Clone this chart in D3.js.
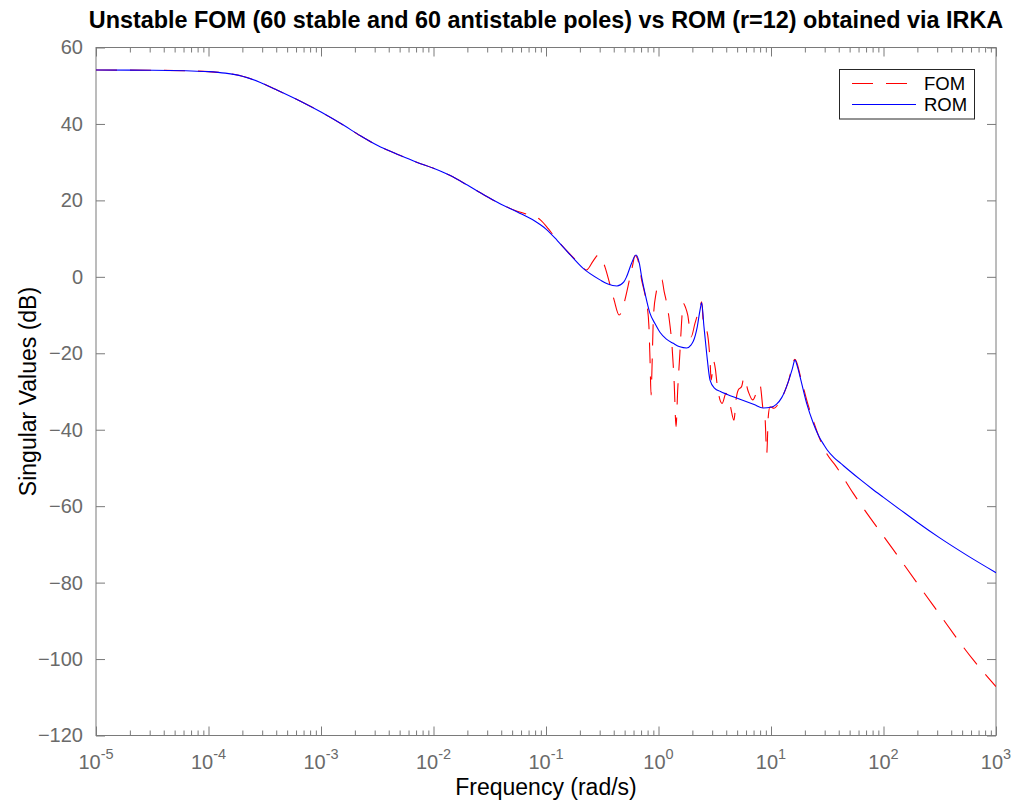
<!DOCTYPE html>
<html>
<head>
<meta charset="utf-8">
<script src="https://cdn.jsdelivr.net/npm/d3@7"></script>
<style>
  body { margin: 0; background: #ffffff; }
  text { font-family: "Liberation Sans", Arial, Helvetica, sans-serif; }
</style>
</head>
<body>
<svg id="chart" width="1016" height="803"></svg>
<script>
// Singular value plot: full-order model (FOM) vs reduced-order model (ROM)

// Reduced-order model (r = 12): frequency (rad/s) and singular value (dB)
const romFreq = [
  1e-5, 3.16e-5, 6.31e-5, 1e-4, 1.41e-4, 2.00e-4, 2.82e-4, 3.98e-4, 6.31e-4, 1e-3,
  1.58e-3, 2.24e-3, 3.16e-3, 5.01e-3, 7.08e-3, 1e-2, 1.41e-2, 2.00e-2, 2.82e-2, 3.98e-2,
  5.62e-2, 7.94e-2, 0.1, 0.126, 0.158, 0.214, 0.302, 0.355, 0.427, 0.490,
  0.520, 0.575, 0.631, 0.676, 0.708, 0.759, 0.839, 0.933, 1.03, 1.175,
  1.352, 1.549, 1.778, 1.950, 2.042, 2.213, 2.339, 2.421, 2.535, 2.679,
  2.871, 3.162, 3.548, 4.036, 5.297, 7.079, 8.511, 10, 11.22, 12.45,
  14.26, 15.49, 16.33, 17.18, 18.11, 20.75, 23.77, 27.29, 29.17, 31.62,
  36.31, 41.69, 50.12, 63.10, 79.43, 100, 140.3, 199.5, 316.2, 562.3,
  1000
];
const romMag = [
  54.1, 54.05, 53.9, 53.7, 53.3, 52.5, 51.0, 49.0, 46.2, 43.1,
  39.7, 36.9, 34.4, 31.8, 30.0, 28.4, 26.5, 24.0, 21.4, 19.0,
  16.9, 14.6, 12.5, 9.5, 6.3, 2.2, -0.8, -1.9, -2.4, -1.4,
  0.0, 3.5, 5.7, 3.5, 0.0, -4.3, -9.5, -12.3, -14.5, -16.3,
  -17.4, -18.3, -18.6, -17.8, -16.8, -13.0, -8.7, -6.8, -13.0, -20.0,
  -27.0, -29.2, -30.0, -30.7, -32.0, -33.4, -34.3, -34.1, -33.3, -31.6,
  -27.4, -24.0, -21.8, -23.5, -26.1, -33.1, -38.3, -42.3, -43.7, -45.3,
  -47.3, -48.8, -50.8, -53.2, -55.5, -57.7, -60.9, -64.2, -68.3, -73.0,
  -77.4
];

// Full-order model (60 stable + 60 antistable poles)
const fomFreq = [
  1e-5, 3.16e-5, 6.31e-5, 1e-4, 1.41e-4, 2.00e-4, 2.82e-4, 3.98e-4, 6.31e-4, 1e-3,
  1.58e-3, 2.24e-3, 3.16e-3, 5.01e-3, 7.08e-3, 1e-2, 1.41e-2, 2.00e-2, 2.82e-2, 3.98e-2,
  0.0562, 0.0676, 0.0891, 0.1047, 0.1161, 0.1413, 0.1778, 0.2089, 0.2291, 0.263,
  0.2917, 0.3162, 0.3342, 0.3707, 0.4018, 0.4467, 0.4677, 0.5012, 0.5495, 0.5888,
  0.618, 0.6457, 0.6761, 0.7079, 0.7499, 0.7943, 0.8222, 0.8414, 0.859, 0.875,
  0.9016, 0.955, 1.012, 1.072, 1.122, 1.183, 1.259, 1.318, 1.380, 1.432,
  1.479, 1.549, 1.603, 1.660, 1.738, 1.820, 1.950, 2.109, 2.339, 2.421,
  2.512, 2.630, 2.773, 2.871, 2.938, 3.090, 3.199, 3.311, 3.681, 3.981,
  4.325, 4.688, 4.887, 5.117, 5.483, 5.754, 6.281, 6.871, 7.980, 8.511,
  8.851, 9.162, 9.462, 9.795, 10.64, 11.48, 12.45, 14.26, 16.33, 18.62,
  21.38, 23.99, 27.29, 31.62, 37.07, 53.70, 123.0, 275.4, 631.0, 1000
];
const fomMag = [
  54.1, 54.05, 53.9, 53.7, 53.3, 52.5, 51.0, 49.0, 46.2, 43.1,
  39.7, 36.9, 34.4, 31.8, 30.0, 28.4, 26.5, 24.0, 21.4, 19.0,
  17.1, 16.4, 14.9, 12.6, 10.9, 7.9, 4.8, 2.6, 1.8, 4.2,
  5.7, 4.5, 2.6, -2.1, -5.9, -10.0, -9.3, -6.2, -1.0, 3.0,
  5.6, 5.0, 2.8, -0.8, -4.0, -7.8, -13.0, -22.0, -30.9, -24.0,
  -10.4, -4.0, -1.2, -0.8, -3.8, -6.9, -12.2, -18.0, -28.0, -39.2,
  -30.0, -20.0, -12.0, -6.9, -8.0, -10.0, -15.7, -12.2, -7.8, -6.5,
  -12.4, -13.2, -16.5, -21.8, -27.0, -22.2, -24.0, -27.9, -33.1, -30.5,
  -33.5, -37.5, -32.2, -29.6, -28.7, -26.3, -30.0, -32.2, -28.3, -34.8,
  -37.0, -46.2, -36.5, -34.0, -34.4, -33.5, -31.8, -27.4, -21.6, -27.0,
  -33.5, -38.0, -42.6, -46.5, -49.2, -56.6, -71.5, -85.9, -100.3, -107.2
];

const xTickExponents = [-5, -4, -3, -2, -1, 0, 1, 2, 3];
const yTickValues = [60, 40, 20, 0, -20, -40, -60, -80, -100, -120];
const titleText = "Unstable FOM (60 stable and 60 antistable poles) vs ROM (r=12) obtained via IRKA";
const xLabelText = "Frequency (rad/s)";
const yLabelText = "Singular Values (dB)";
const seriesNames = ["FOM", "ROM"];

const W = 1016, H = 803;
const plot = { left: 96, right: 996, top: 47.5, bottom: 735.5 };
const axisColor = "#7a7a7a";
const labelColor = "#6a6a6a";

const svg = d3.select("#chart");
svg.append("rect").attr("width", W).attr("height", H).attr("fill", "#fff");

const x = d3.scaleLog().domain([1e-5, 1e3]).range([plot.left, plot.right]);
const y = d3.scaleLinear().domain([-120, 60]).range([plot.bottom, plot.top]);

const majorX = xTickExponents.map(e => Math.pow(10, e));
const minorX = [];
xTickExponents.slice(0, -1).forEach(e => {
  for (let m = 2; m <= 9; m++) minorX.push(m * Math.pow(10, e));
});

// Axes (ticks point inward on all four sides)
function styleAxis(g) {
  g.selectAll("path.domain").remove();
  g.selectAll("line").attr("stroke", axisColor).attr("stroke-width", 1);
}
svg.append("g").attr("transform", `translate(0,${plot.bottom})`)
  .call(d3.axisBottom(x).tickValues(majorX).tickSize(-9).tickSizeOuter(0).tickFormat(""))
  .call(styleAxis);
svg.append("g").attr("transform", `translate(0,${plot.bottom})`)
  .call(d3.axisBottom(x).tickValues(minorX).tickSize(-5).tickSizeOuter(0).tickFormat(""))
  .call(styleAxis);
svg.append("g").attr("transform", `translate(0,${plot.top})`)
  .call(d3.axisTop(x).tickValues(majorX).tickSize(-9).tickSizeOuter(0).tickFormat(""))
  .call(styleAxis);
svg.append("g").attr("transform", `translate(0,${plot.top})`)
  .call(d3.axisTop(x).tickValues(minorX).tickSize(-5).tickSizeOuter(0).tickFormat(""))
  .call(styleAxis);

const yAxisG = svg.append("g").attr("transform", `translate(${plot.left},0)`)
  .call(d3.axisLeft(y).tickValues(yTickValues).tickSize(-9).tickSizeOuter(0).tickPadding(13).tickFormat(d3.format("d")))
  .call(styleAxis);
yAxisG.selectAll("text")
  .attr("fill", labelColor)
  .style("font-size", "20px")
  .style("font-family", "'Liberation Sans', Arial, sans-serif");
svg.append("g").attr("transform", `translate(${plot.right},0)`)
  .call(d3.axisRight(y).tickValues(yTickValues).tickSize(-9).tickSizeOuter(0).tickFormat(""))
  .call(styleAxis);

// Plot box
svg.append("rect")
  .attr("x", plot.left).attr("y", plot.top)
  .attr("width", plot.right - plot.left).attr("height", plot.bottom - plot.top)
  .attr("fill", "none").attr("stroke", axisColor).attr("stroke-width", 1);

// Power-of-ten tick labels
const xLab = svg.append("g");
xTickExponents.forEach(e => {
  const t = xLab.append("text")
    .attr("x", x(Math.pow(10, e)))
    .attr("y", 769)
    .attr("text-anchor", "middle")
    .attr("fill", labelColor)
    .style("font-size", "20px");
  t.append("tspan").text("10");
  t.append("tspan").attr("dy", -10).style("font-size", "14.5px").text(String(e));
});

// Data lines
svg.append("clipPath").attr("id", "plotClip")
  .append("rect")
  .attr("x", plot.left).attr("y", plot.top)
  .attr("width", plot.right - plot.left).attr("height", plot.bottom - plot.top);

const line = d3.line()
  .x(d => x(d[0]))
  .y(d => y(d[1]))
  .curve(d3.curveMonotoneX);

const fomData = d3.zip(fomFreq, fomMag);
const romData = d3.zip(romFreq, romMag);

const lines = svg.append("g").attr("clip-path", "url(#plotClip)");
lines.append("path")
  .datum(fomData)
  .attr("d", line)
  .attr("fill", "none")
  .attr("stroke", "#ff0000")
  .attr("stroke-width", 1.1)
  .attr("stroke-dasharray", "21,13");
lines.append("path")
  .datum(romData)
  .attr("d", line)
  .attr("fill", "none")
  .attr("stroke", "#0000ff")
  .attr("stroke-width", 1.1);

// Title and axis labels
svg.append("text")
  .attr("x", (plot.left + plot.right) / 2)
  .attr("y", 28)
  .attr("text-anchor", "middle")
  .style("font-size", "23.4px")
  .style("font-weight", "bold")
  .attr("fill", "#000")
  .text(titleText);

svg.append("text")
  .attr("x", (plot.left + plot.right) / 2)
  .attr("y", 794.5)
  .attr("text-anchor", "middle")
  .style("font-size", "23px")
  .attr("fill", "#000")
  .text(xLabelText);

svg.append("text")
  .attr("transform", `translate(36,${(plot.top + plot.bottom) / 2}) rotate(-90)`)
  .attr("text-anchor", "middle")
  .style("font-size", "23px")
  .attr("fill", "#000")
  .text(yLabelText);

// Legend
const legend = svg.append("g");
legend.append("rect")
  .attr("x", 839.5).attr("y", 69.5)
  .attr("width", 135).attr("height", 49.5)
  .attr("fill", "#fff").attr("stroke", "#262626").attr("stroke-width", 1);
const legendRows = [
  { name: seriesNames[0], color: "#ff0000", dash: "21,13", y: 83.5 },
  { name: seriesNames[1], color: "#0000ff", dash: null, y: 104.5 }
];
legendRows.forEach(r => {
  legend.append("line")
    .attr("x1", 852).attr("x2", r.dash ? 908 : 916)
    .attr("y1", r.y).attr("y2", r.y)
    .attr("stroke", r.color).attr("stroke-width", 1.1)
    .attr("stroke-dasharray", r.dash);
  legend.append("text")
    .attr("x", 924).attr("y", r.y + 6.5)
    .style("font-size", "18.5px")
    .attr("fill", "#000")
    .text(r.name);
});
</script>
</body>
</html>
